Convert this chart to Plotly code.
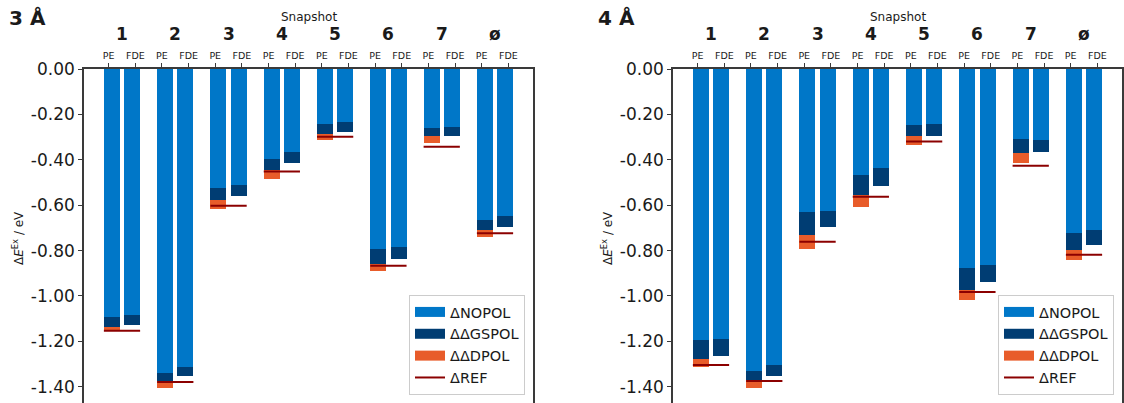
import plotly.graph_objects as go

# ---------------- data (eV; plotted downward as negative values) ----------------
SNAPSHOTS = ["1", "2", "3", "4", "5", "6", "7", "ø"]
METHODS = ["PE", "FDE"]
PANEL_TITLES = ["3 Å", "4 Å"]
SERIES_NAMES = ["ΔNOPOL", "ΔΔGSPOL", "ΔΔDPOL", "ΔREF"]

# 3 Å
NOPOL_PE_3 = [-1.093, -1.339, -0.524, -0.396, -0.242, -0.793, -0.260, -0.665]
GSPOL_PE_3 = [-0.044, -0.037, -0.053, -0.049, -0.044, -0.066, -0.035, -0.044]
DPOL_PE_3 = [-0.013, -0.029, -0.038, -0.038, -0.025, -0.030, -0.030, -0.030]
NOPOL_FDE_3 = [-1.084, -1.313, -0.511, -0.366, -0.233, -0.785, -0.256, -0.648]
GSPOL_FDE_3 = [-0.042, -0.039, -0.047, -0.047, -0.043, -0.051, -0.038, -0.047]
REF_3 = [-1.153, -1.379, -0.602, -0.452, -0.298, -0.867, -0.342, -0.724]

# 4 Å
NOPOL_PE_4 = [-1.194, -1.330, -0.630, -0.467, -0.247, -0.877, -0.308, -0.722]
GSPOL_PE_4 = [-0.084, -0.040, -0.100, -0.088, -0.047, -0.097, -0.062, -0.075]
DPOL_PE_4 = [-0.033, -0.035, -0.063, -0.052, -0.039, -0.044, -0.044, -0.044]
NOPOL_FDE_4 = [-1.189, -1.304, -0.626, -0.436, -0.242, -0.863, -0.313, -0.709]
GSPOL_FDE_4 = [-0.075, -0.048, -0.069, -0.078, -0.052, -0.075, -0.053, -0.066]
REF_4 = [-1.304, -1.374, -0.761, -0.563, -0.319, -0.982, -0.426, -0.818]

Y_TICKS = [0.0, -0.2, -0.4, -0.6, -0.8, -1.0, -1.2, -1.4]
Y_TICK_LABELS = ["0.00", "-0.20", "-0.40", "-0.60", "-0.80", "-1.00", "-1.20", "-1.40"]

# ---------------- style ----------------
C_NOPOL = "#0077c8"
C_GSPOL = "#003d73"
C_DPOL = "#e85c2a"
C_REF = "#8b0000"
C_AXIS = "#3a3a3a"
C_TEXT = "#1a1a1a"
FONT = "DejaVu Sans"

W, H = 1124, 403
ML, MR, MT, MB = 84, 2, 69, 0
PW, PH = W - ML - MR, H - MT - MB

BAR_W = 0.30
BAR_OFF = 0.19
TICK_OFF = 0.25
X_RANGE = [-0.713, 7.713]
Y_RANGE = [-1.4714, 0.0]


def px_x(px):
    return (px - ML) / PW


def px_y(py):
    return (H - MB - py) / PH


panels = [
    dict(nopol_pe=NOPOL_PE_3, gs_pe=GSPOL_PE_3, dp_pe=DPOL_PE_3,
         nopol_fde=NOPOL_FDE_3, gs_fde=GSPOL_FDE_3, ref=REF_3,
         left=84, right=533, legend="legend"),
    dict(nopol_pe=NOPOL_PE_4, gs_pe=GSPOL_PE_4, dp_pe=DPOL_PE_4,
         nopol_fde=NOPOL_FDE_4, gs_fde=GSPOL_FDE_4, ref=REF_4,
         left=673, right=1122, legend="legend2"),
]

fig = go.Figure()
groups = list(range(len(SNAPSHOTS)))
pe_x = [g - BAR_OFF for g in groups]
fde_x = [g + BAR_OFF for g in groups]

for i, p in enumerate(panels):
    xa = "x" if i == 0 else "x2"
    ya = "y" if i == 0 else "y2"
    fig.add_trace(go.Bar(x=pe_x + fde_x, y=p["nopol_pe"] + p["nopol_fde"], width=BAR_W,
                         marker=dict(color=C_NOPOL, line=dict(width=0)),
                         xaxis=xa, yaxis=ya, showlegend=False, name=SERIES_NAMES[0]))
    fig.add_trace(go.Bar(x=pe_x + fde_x, y=p["gs_pe"] + p["gs_fde"], width=BAR_W,
                         marker=dict(color=C_GSPOL, line=dict(width=0)),
                         xaxis=xa, yaxis=ya, showlegend=False, name=SERIES_NAMES[1]))
    fig.add_trace(go.Bar(x=pe_x, y=p["dp_pe"], width=BAR_W,
                         marker=dict(color=C_DPOL, line=dict(width=0)),
                         xaxis=xa, yaxis=ya, showlegend=False, name=SERIES_NAMES[2]))
    lx, ly = [], []
    for g, r in zip(groups, p["ref"]):
        lx += [g - BAR_OFF - BAR_W / 2, g + BAR_OFF + BAR_W / 2, None]
        ly += [r, r, None]
    fig.add_trace(go.Scatter(x=lx, y=ly, mode="lines", line=dict(color=C_REF, width=2),
                             xaxis=xa, yaxis=ya, showlegend=False, name=SERIES_NAMES[3]))
    # legend entries
    for name, col, lw in [(SERIES_NAMES[0], C_NOPOL, 12), (SERIES_NAMES[1], C_GSPOL, 12),
                          (SERIES_NAMES[2], C_DPOL, 12), (SERIES_NAMES[3], C_REF, 2)]:
        fig.add_trace(go.Scatter(x=[None], y=[None], mode="lines", name=name,
                                 line=dict(color=col, width=lw), xaxis=xa, yaxis=ya,
                                 legend=p["legend"], showlegend=True))

axis_common = dict(showline=True, linecolor=C_AXIS, linewidth=1.5,
                   showgrid=False, zeroline=False, ticks="outside", ticklen=4,
                   tickwidth=1.2, tickcolor=C_AXIS)

tickvals_x = []
ticktext_x = []
for g in groups:
    tickvals_x += [g - TICK_OFF, g + TICK_OFF]
    ticktext_x += METHODS

layout = dict(
    width=W, height=H,
    margin=dict(l=ML, r=MR, t=MT, b=MB, pad=0),
    paper_bgcolor="white", plot_bgcolor="white",
    barmode="relative", bargap=0,
    font=dict(family=FONT, color=C_TEXT),
    showlegend=True,
)

annotations = []
for i, p in enumerate(panels):
    dom = [px_x(p["left"]), px_x(p["right"])]
    sfx = "" if i == 0 else str(i + 1)
    layout["xaxis" + sfx] = dict(axis_common, domain=dom, range=X_RANGE, side="top",
                                 mirror=False,
                                 tickvals=tickvals_x, ticktext=ticktext_x,
                                 tickfont=dict(size=9.5, family=FONT, color=C_TEXT),
                                 anchor="y" + sfx)
    layout["yaxis" + sfx] = dict(axis_common, domain=[0, 1], range=Y_RANGE, mirror=True,
                                 tickvals=Y_TICKS, ticktext=Y_TICK_LABELS,
                                 tickfont=dict(size=17, family=FONT, color=C_TEXT),
                                 anchor="x" + sfx)
    layout[p["legend"]] = dict(x=px_x(p["right"] - 8), xanchor="right",
                               y=px_y(395), yanchor="bottom", xref="paper", yref="paper",
                               bgcolor="rgba(255,255,255,0.8)", bordercolor="#cccccc",
                               borderwidth=1, font=dict(size=14.5, family=FONT, color=C_TEXT),
                               itemwidth=30, tracegroupgap=0)
    xr = "x" if i == 0 else "x2"
    for g, s in zip(groups, SNAPSHOTS):
        annotations.append(dict(x=g, y=px_y(34), xref=xr, yref="paper", text="<b>%s</b>" % s,
                                showarrow=False, xanchor="center", yanchor="middle",
                                font=dict(size=17, family=FONT, color=C_TEXT)))
    mid = (p["left"] + p["right"]) / 2
    annotations.append(dict(x=px_x(mid), y=px_y(17), xref="paper", yref="paper", text="Snapshot",
                            showarrow=False, xanchor="center", yanchor="middle",
                            font=dict(size=12, family=FONT, color=C_TEXT)))
    annotations.append(dict(x=px_x(p["left"] - 77), y=px_y(18), xref="paper", yref="paper",
                            text="<b>%s</b>" % PANEL_TITLES[i], showarrow=False,
                            xanchor="left", yanchor="middle",
                            font=dict(size=20, family=FONT, color=C_TEXT)))
    annotations.append(dict(x=px_x(p["left"] - 66), y=px_y(238), xref="paper", yref="paper",
                            text="Δ<i>E</i><sup>Ex</sup> / eV", textangle=-90, showarrow=False,
                            xanchor="center", yanchor="middle",
                            font=dict(size=12, family=FONT, color=C_TEXT)))

layout["annotations"] = annotations
fig.update_layout(**layout)
fig.write_html("out.html", config={"displayModeBar": False},
               post_script="document.body.style.margin='0';document.body.style.overflow='hidden';")
